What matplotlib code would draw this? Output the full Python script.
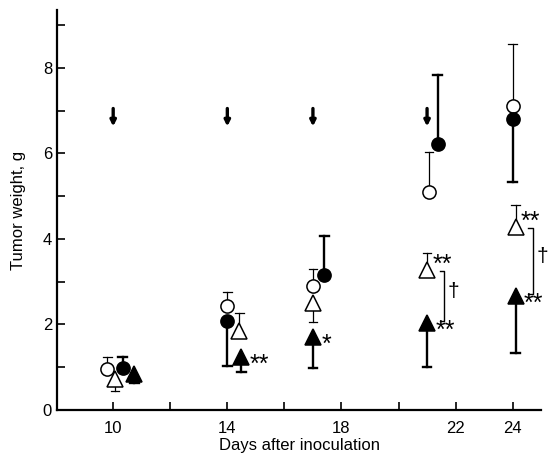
import matplotlib
matplotlib.use("Agg")
import matplotlib.pyplot as plt
import numpy as np

plt.rcParams['font.family'] = ['Liberation Sans', 'DejaVu Sans']

# open circles
oc_x = [9.8, 14.0, 17.0, 21.07, 24.0]
oc_y = [0.96, 2.43, 2.9, 5.1, 7.12]
oc_err = [1.24, 2.76, 3.3, 6.03, 8.55]      # end of the error bar

# filled circles
fc_x = [10.33, 14.0, 17.4, 21.37, 24.0]
fc_y = [0.98, 2.08, 3.16, 6.22, 6.81]
fc_err = [1.24, 1.03, 4.07, 7.83, 5.34]

# open triangles
ot_x = [10.07, 14.42, 17.0, 21.0, 24.1]
ot_y = [0.72, 1.85, 2.5, 3.27, 4.28]
ot_err = [0.45, 2.27, 2.06, 3.67, 4.8]
ot_sig = ["", "", "", "**", "**"]

# filled triangles
ft_x = [10.74, 14.49, 17.0, 21.0, 24.1]
ft_y = [0.84, 1.24, 1.71, 2.03, 2.67]
ft_err = [0.63, 0.89, 0.98, 1.0, 1.33]
ft_sig = ["", "**", "*", "**", "**"]

# treatment days (arrows)
treat_days = [10, 14, 17, 21]
arrow_y = 6.85

xticks = [10, 12, 14, 16, 18, 20, 22, 24]
xticklabels = ["10", "", "14", "", "18", "", "22", "24"]


def draw_series(ax, x, y, err, marker, face, lw, ms):
    for xi, yi, ei in zip(x, y, err):
        ax.plot([xi, xi], [yi, ei], color="black", lw=lw, zorder=2)
        ax.plot([xi - 0.15, xi + 0.15], [ei, ei], color="black", lw=lw, zorder=2)
    ax.plot(x, y, linestyle="none", marker=marker, markersize=ms,
            markerfacecolor=face, markeredgecolor="black", markeredgewidth=1.1,
            zorder=3)


def star(ax, x, y, s, dx, dy):
    fs = 18
    ax.annotate(s, xy=(x, y + dy), xytext=(dx, -0.42 * fs),
                textcoords="offset points", fontsize=fs,
                va="baseline", ha="left")


fig = plt.figure(figsize=(5.5, 4.57), dpi=100)
ax = fig.add_axes([0.1036, 0.1028, 0.8804, 0.875])

draw_series(ax, oc_x, oc_y, oc_err, "o", "white", 0.9, 9.5)
draw_series(ax, fc_x, fc_y, fc_err, "o", "black", 1.7, 9.5)
draw_series(ax, ot_x, ot_y, ot_err, "^", "white", 0.9, 11)
draw_series(ax, ft_x, ft_y, ft_err, "^", "black", 1.7, 11)

# significance marks
for xi, yi, s in zip(ot_x, ot_y, ot_sig):
    if s:
        star(ax, xi, yi, s, 4, 0.2)
for xi, yi, s in zip(ft_x, ft_y, ft_sig):
    if s:
        star(ax, xi, yi, s, 6, -0.1)

# brackets between triangle groups at day 22 and 24
for i in [3, 4]:
    bx = ot_x[i] + 0.6
    top = ot_y[i] - 0.02
    bot = ft_y[i] + 0.05
    ax.plot([bx - 0.15, bx, bx, bx - 0.15], [top, top, bot, bot],
            color="black", lw=1.0)
    ax.text(bx + 0.33, (top + bot) / 2 + 0.1, "\u2020", fontsize=15,
            va="center", ha="center")

# treatment arrows
for d in treat_days:
    ax.annotate("", xy=(d, arrow_y - 0.22), xytext=(d, arrow_y + 0.2),
                arrowprops=dict(arrowstyle="-|>", color="black", lw=2.4,
                                mutation_scale=8, shrinkA=0, shrinkB=0))

ax.set_xlim(8.03, 25.0)
ax.set_ylim(0, 9.35)
ax.set_xticks(xticks)
ax.set_xticklabels(xticklabels)
ax.set_yticks(np.arange(0, 10, 1))
ax.set_yticklabels(["0", "", "2", "", "4", "", "6", "", "8", ""])
ax.tick_params(direction="in", length=6, width=1.2, labelsize=12)
ax.tick_params(axis="x", pad=8)
ax.spines["top"].set_visible(False)
ax.spines["right"].set_visible(False)
ax.spines["left"].set_linewidth(1.6)
ax.spines["bottom"].set_linewidth(1.6)
ax.set_xlabel("Days after inoculation", fontsize=12, labelpad=1)
ax.set_ylabel("Tumor weight, g", fontsize=12, labelpad=12)

fig.savefig("out.png", dpi=100)
